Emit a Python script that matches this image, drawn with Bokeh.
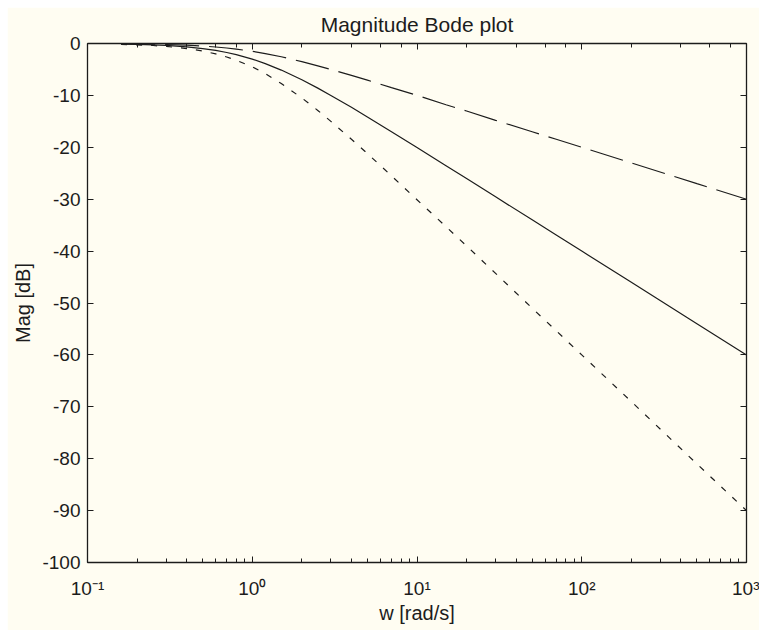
from bokeh.plotting import figure
from bokeh.models import Range1d, LogAxis, LinearAxis, FixedTicker
from bokeh.embed import file_html
from bokeh.resources import INLINE

# Frequency samples [rad/s] and magnitudes [dB] of the three responses
freq = [0.16, 0.2, 0.25, 0.3, 0.4, 0.5, 0.6, 0.7, 0.8, 1.0, 1.2, 1.5, 2.0, 2.5,
        3.0, 4.0, 5.0, 7.0, 10.0, 15.0, 20.0, 30.0, 50.0, 70.0, 100.0, 200.0,
        500.0, 1000.0]
mag_half_order = [-0.05, -0.09, -0.13, -0.19, -0.32, -0.48, -0.67, -0.87, -1.07,
                  -1.5, -1.94, -2.56, -3.5, -4.3, -5.0, -6.15, -7.07, -8.5,
                  -10.0, -11.8, -13.0, -14.8, -17.0, -18.45, -20.0, -23.0,
                  -27.0, -30.0]
mag_first_order = [-0.11, -0.17, -0.26, -0.37, -0.64, -0.97, -1.34, -1.73, -2.15,
                   -3.01, -3.87, -5.12, -6.99, -8.6, -10.0, -12.3, -14.15, -17.0,
                   -20.04, -23.54, -26.03, -29.55, -33.98, -36.9, -40.0, -46.02,
                   -53.98, -60.0]
mag_three_half_order = [-0.16, -0.26, -0.39, -0.56, -0.97, -1.45, -2.0, -2.6, -3.22,
                        -4.5, -5.8, -7.7, -10.5, -12.9, -15.0, -18.45, -21.2, -25.5,
                        -30.1, -35.3, -39.0, -44.3, -51.0, -55.35, -60.0, -69.0,
                        -81.0, -90.0]

# Axis ticks
decades = [0.1, 1.0, 10.0, 100.0, 1000.0]
decade_labels = ["10\u207b\u00b9", "10\u2070", "10\u00b9", "10\u00b2", "10\u00b3"]
db_ticks = [-100, -90, -80, -70, -60, -50, -40, -30, -20, -10, 0]
db_labels = ["-100", "-90", "-80", "-70", "-60", "-50", "-40", "-30", "-20", "-10", "0"]

BG = "#FFFDF2"
INK = "#1c1c1c"
FONT = "Liberation Sans"

p = figure(width=752, height=623, x_axis_type="log",
           x_range=Range1d(0.1, 1000), y_range=Range1d(-100, 0),
           output_backend="svg", toolbar_location=None,
           background_fill_color=BG, border_fill_color=BG,
           min_border_left=80, min_border_right=13,
           min_border_top=36, min_border_bottom=68,
           outline_line_color=None)
p.margin = (7, 0, 0, 7)
p.xgrid.visible = False
p.ygrid.visible = False

p.title.text = "Magnitude Bode plot"
p.title.align = "center"
p.title.vertical_align = "top"
p.title.text_font = FONT
p.title.text_font_size = "21px"
p.title.text_font_style = "normal"
p.title.text_color = INK
p.title.standoff = 11


def style_axis(ax):
    ax.axis_line_color = INK
    ax.axis_line_width = 1.3
    ax.major_tick_line_color = INK
    ax.minor_tick_line_color = INK
    ax.major_tick_in = 6
    ax.major_tick_out = 0
    ax.minor_tick_in = 4
    ax.minor_tick_out = 0
    ax.major_label_text_font = FONT
    ax.major_label_text_color = INK
    ax.major_label_text_font_size = "19px"
    ax.axis_label_text_font = FONT
    ax.axis_label_text_font_style = "normal"
    ax.axis_label_text_color = INK
    ax.axis_label_text_font_size = "20px"


# Bottom axis with decade labels
xb = p.xaxis[0]
style_axis(xb)
xb.major_label_overrides = dict(zip(decades, decade_labels))
xb.major_label_standoff = 15
xb.axis_label = "w [rad/s]"
xb.axis_label_standoff = 0

# Left axis
yl = p.yaxis[0]
style_axis(yl)
yl.ticker = FixedTicker(ticks=db_ticks)
yl.major_label_overrides = dict(zip(db_ticks, db_labels))
yl.major_label_standoff = 7
yl.axis_label = "Mag [dB]"
yl.axis_label_standoff = 5

# Box: top and right axes with inward ticks and no labels
xt = LogAxis()
style_axis(xt)
xt.major_label_overrides = {d: "" for d in decades}
p.add_layout(xt, "above")

yr = LinearAxis(ticker=FixedTicker(ticks=db_ticks))
style_axis(yr)
yr.major_label_overrides = {t: "" for t in db_ticks}
p.add_layout(yr, "right")

# Responses
p.line(freq, mag_half_order, line_color=INK, line_width=1.2, line_dash="34 10")
p.line(freq, mag_first_order, line_color=INK, line_width=1.2)
p.line(freq, mag_three_half_order, line_color=INK, line_width=1.2, line_dash="6 9")

open("out.html", "w").write(file_html(p, INLINE))
